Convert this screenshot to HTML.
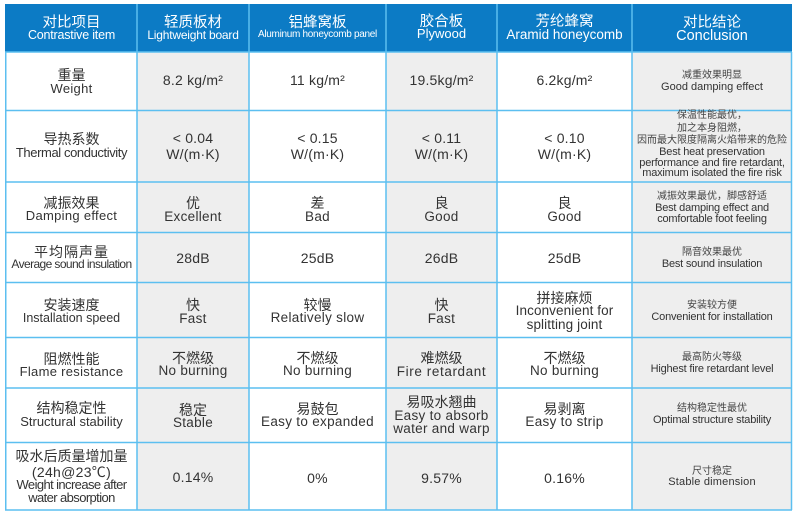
<!DOCTYPE html>
<html><head><meta charset="utf-8"><style>
html,body{margin:0;padding:0;background:#fff;}
body{width:800px;height:518px;position:relative;overflow:hidden;font-family:"Liberation Sans","Noto Sans CJK SC",sans-serif;color:#333;}
svg{position:absolute;left:0;top:0;}
.t{position:absolute;white-space:nowrap;text-align:center;line-height:16px;height:16px;}
.c0{left:6px;width:131px}.c1{left:137px;width:112px}.c2{left:249px;width:137px}
.c3{left:386px;width:111px}.c4{left:497px;width:135px}.c5{left:632px;width:160px}
.h{color:#fff;font-size:14.5px;}
.he{color:#fff;font-size:12.5px;letter-spacing:-0.2px;}
.z{font-size:14px;}
.e{font-size:13px;}
.v{font-size:14px;letter-spacing:0.2px;}
.ve{font-size:13.5px;letter-spacing:0.3px;}
.s{font-size:10px;color:#444;}
.se{font-size:11px;letter-spacing:-0.2px;color:#333;}
</style></head><body>
<svg width="800" height="518" viewBox="0 0 800 518">
<rect x="5" y="4" width="787" height="48" fill="#0c7bc5"/>
<rect x="137" y="52" width="112" height="458" fill="#eeeeee"/>
<rect x="386" y="52" width="111" height="458" fill="#eeeeee"/>
<rect x="632" y="52" width="160" height="458" fill="#eeeeee"/>
<g stroke="#5cbff0" stroke-width="1.5" fill="none">
<line x1="137" y1="4" x2="137" y2="510"/>
<line x1="249" y1="4" x2="249" y2="510"/>
<line x1="386" y1="4" x2="386" y2="510"/>
<line x1="497" y1="4" x2="497" y2="510"/>
<line x1="632" y1="4" x2="632" y2="510"/>
<line x1="5.75" y1="52" x2="5.75" y2="510"/>
<line x1="791.5" y1="52" x2="791.5" y2="510"/>
<line x1="5" y1="52" x2="792" y2="52"/>
<line x1="5" y1="110.5" x2="792" y2="110.5"/>
<line x1="5" y1="182" x2="792" y2="182"/>
<line x1="5" y1="232.5" x2="792" y2="232.5"/>
<line x1="5" y1="282.5" x2="792" y2="282.5"/>
<line x1="5" y1="337.5" x2="792" y2="337.5"/>
<line x1="5" y1="388" x2="792" y2="388"/>
<line x1="5" y1="442.5" x2="792" y2="442.5"/>
<line x1="5" y1="510" x2="792" y2="510"/>
</g>
</svg>

<!-- header -->
<div class="t c0 h" style="top:14.5px">对比项目</div>
<div class="t c0 he" style="top:27px">Contrastive item</div>
<div class="t c1 h" style="top:14.5px">轻质板材</div>
<div class="t c1 he" style="top:26.5px;font-size:12px">Lightweight board</div>
<div class="t c2 h" style="top:14.5px">铝蜂窝板</div>
<div class="t c2 he" style="top:27px;font-size:10px;letter-spacing:-0.3px">Aluminum honeycomb panel</div>
<div class="t c3 h" style="top:14px">胶合板</div>
<div class="t c3 he" style="top:25.5px;font-size:13px;letter-spacing:0">Plywood</div>
<div class="t c4 h" style="top:14px">芳纶蜂窝</div>
<div class="t c4 he" style="top:26.5px;font-size:13.5px;letter-spacing:0">Aramid honeycomb</div>
<div class="t c5 h" style="top:14.5px">对比结论</div>
<div class="t c5 he" style="top:28px;font-size:14.5px;letter-spacing:0">Conclusion</div>

<!-- row1 -->
<div class="t c0 z" style="top:67px">重量</div>
<div class="t c0 e" style="top:80.5px;letter-spacing:0.3px">Weight</div>
<div class="t c1 v" style="top:72px">8.2 kg/m²</div>
<div class="t c2 v" style="top:72px">11 kg/m²</div>
<div class="t c3 v" style="top:72px">19.5kg/m²</div>
<div class="t c4 v" style="top:72px">6.2kg/m²</div>
<div class="t c5 s" style="top:68px">减重效果明显</div>
<div class="t c5 se" style="top:79px;letter-spacing:0">Good damping effect</div>

<!-- row2 -->
<div class="t c0 z" style="top:131.3px">导热系数</div>
<div class="t c0 e" style="top:145.3px;letter-spacing:-0.4px">Thermal conductivity</div>
<div class="t c1 v" style="top:129.5px">&lt; 0.04</div>
<div class="t c1 v" style="top:145.5px">W/(m·K)</div>
<div class="t c2 v" style="top:129.5px">&lt; 0.15</div>
<div class="t c2 v" style="top:145.5px">W/(m·K)</div>
<div class="t c3 v" style="top:129.5px">&lt; 0.11</div>
<div class="t c3 v" style="top:145.5px">W/(m·K)</div>
<div class="t c4 v" style="top:129.5px">&lt; 0.10</div>
<div class="t c4 v" style="top:145.5px">W/(m·K)</div>
<div class="t c5 s" style="top:108px">保温性能最优，</div>
<div class="t c5 s" style="top:120.5px">加之本身阻燃，</div>
<div class="t c5 s" style="top:132.7px">因而最大限度隔离火焰带来的危险</div>
<div class="t c5 se" style="top:143.7px">Best heat preservation</div>
<div class="t c5 se" style="top:154.7px">performance and fire retardant,</div>
<div class="t c5 se" style="top:165.3px">maximum isolated the fire risk</div>

<!-- row3 -->
<div class="t c0 z" style="top:195px">减振效果</div>
<div class="t c0 e" style="top:208.3px;letter-spacing:0.3px">Damping effect</div>
<div class="t c1 z" style="top:195.3px">优</div>
<div class="t c1 ve" style="top:209px">Excellent</div>
<div class="t c2 z" style="top:195.3px">差</div>
<div class="t c2 ve" style="top:208.7px">Bad</div>
<div class="t c3 z" style="top:195.3px">良</div>
<div class="t c3 ve" style="top:209px">Good</div>
<div class="t c4 z" style="top:195.3px">良</div>
<div class="t c4 ve" style="top:209px">Good</div>
<div class="t c5 s" style="top:188.7px">减振效果最优，脚感舒适</div>
<div class="t c5 se" style="top:200.3px">Best damping effect and</div>
<div class="t c5 se" style="top:211px">comfortable foot feeling</div>

<!-- row4 -->
<div class="t c0 z" style="top:243.7px;letter-spacing:1px">平均隔声量</div>
<div class="t c0 e" style="top:256.3px;font-size:12px;letter-spacing:-0.6px">Average sound insulation</div>
<div class="t c1 v" style="top:250.3px">28dB</div>
<div class="t c2 v" style="top:250.3px">25dB</div>
<div class="t c3 v" style="top:250.3px">26dB</div>
<div class="t c4 v" style="top:250.3px">25dB</div>
<div class="t c5 s" style="top:245.3px">隔音效果最优</div>
<div class="t c5 se" style="top:256px">Best sound insulation</div>

<!-- row5 -->
<div class="t c0 z" style="top:297px">安装速度</div>
<div class="t c0 e" style="top:310.3px;font-size:12.5px;letter-spacing:0">Installation speed</div>
<div class="t c1 z" style="top:297px">快</div>
<div class="t c1 ve" style="top:311px">Fast</div>
<div class="t c2 z" style="top:297px">较慢</div>
<div class="t c2 ve" style="top:310.3px">Relatively slow</div>
<div class="t c3 z" style="top:297px">快</div>
<div class="t c3 ve" style="top:311px">Fast</div>
<div class="t c4 z" style="top:289.7px">拼接麻烦</div>
<div class="t c4 ve" style="top:303.3px;letter-spacing:0.1px">Inconvenient for</div>
<div class="t c4 ve" style="top:317px;letter-spacing:0.1px">splitting joint</div>
<div class="t c5 s" style="top:298px">安装较方便</div>
<div class="t c5 se" style="top:308.7px">Convenient for installation</div>

<!-- row6 -->
<div class="t c0 z" style="top:351px">阻燃性能</div>
<div class="t c0 e" style="top:363.7px;letter-spacing:0.3px">Flame resistance</div>
<div class="t c1 z" style="top:349.5px">不燃级</div>
<div class="t c1 ve" style="top:363px">No burning</div>
<div class="t c2 z" style="top:349.5px">不燃级</div>
<div class="t c2 ve" style="top:363px">No burning</div>
<div class="t c3 z" style="top:349.5px">难燃级</div>
<div class="t c3 ve" style="top:364.3px;letter-spacing:0.6px">Fire retardant</div>
<div class="t c4 z" style="top:349.5px">不燃级</div>
<div class="t c4 ve" style="top:363px">No burning</div>
<div class="t c5 s" style="top:350.3px">最高防火等级</div>
<div class="t c5 se" style="top:361px">Highest fire retardant level</div>

<!-- row7 -->
<div class="t c0 z" style="top:400.3px">结构稳定性</div>
<div class="t c0 e" style="top:414.3px;letter-spacing:0">Structural stability</div>
<div class="t c1 z" style="top:402px">稳定</div>
<div class="t c1 ve" style="top:415.3px">Stable</div>
<div class="t c2 z" style="top:401px">易鼓包</div>
<div class="t c2 ve" style="top:414.3px">Easy to expanded</div>
<div class="t c3 z" style="top:393.7px">易吸水翘曲</div>
<div class="t c3 ve" style="top:407.7px">Easy to absorb</div>
<div class="t c3 ve" style="top:421px">water and warp</div>
<div class="t c4 z" style="top:401px">易剥离</div>
<div class="t c4 ve" style="top:414.3px">Easy to strip</div>
<div class="t c5 s" style="top:401px">结构稳定性最优</div>
<div class="t c5 se" style="top:412px">Optimal structure stability</div>

<!-- row8 -->
<div class="t c0 z" style="top:447.7px">吸水后质量增加量</div>
<div class="t c0 z" style="top:463.7px;letter-spacing:0.3px">(24h@23℃)</div>
<div class="t c0 e" style="top:477px;letter-spacing:-0.6px">Weight increase after</div>
<div class="t c0 e" style="top:490.3px;letter-spacing:-0.6px">water absorption</div>
<div class="t c1 v" style="top:469.3px">0.14%</div>
<div class="t c2 v" style="top:469.7px">0%</div>
<div class="t c3 v" style="top:469.7px">9.57%</div>
<div class="t c4 v" style="top:469.7px">0.16%</div>
<div class="t c5 s" style="top:464.3px">尺寸稳定</div>
<div class="t c5 se" style="top:474.3px;letter-spacing:0.2px">Stable dimension</div>
</body></html>
